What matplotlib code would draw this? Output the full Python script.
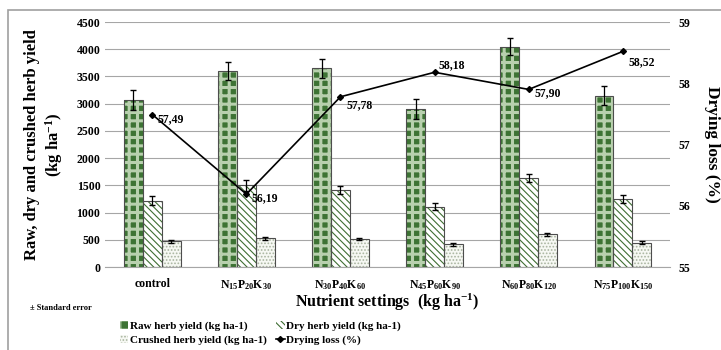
import numpy as np
import matplotlib.pyplot as plt
from matplotlib.patches import Patch, Rectangle
from matplotlib.lines import Line2D

plt.rcParams['font.family'] = ['Liberation Serif', 'DejaVu Serif']
plt.rcParams['font.weight'] = 'bold'
plt.rcParams['mathtext.fontset'] = 'custom'
plt.rcParams['mathtext.rm'] = 'Liberation Serif:bold'
plt.rcParams['mathtext.it'] = 'Liberation Serif:bold'
plt.rcParams['mathtext.bf'] = 'Liberation Serif:bold'

categories = ['control', r'N$_{15}$P$_{20}$K$_{30}$', r'N$_{30}$P$_{40}$K$_{60}$',
              r'N$_{45}$P$_{60}$K$_{90}$', r'N$_{60}$P$_{80}$K$_{120}$',
              r'N$_{75}$P$_{100}$K$_{150}$']

raw_yield = [3070, 3600, 3650, 2900, 4050, 3150]
raw_err = [180, 170, 180, 180, 160, 170]
dry_yield = [1220, 1500, 1420, 1110, 1640, 1250]
dry_err = [80, 100, 70, 60, 70, 80]
crushed_yield = [470, 530, 510, 420, 600, 450]
crushed_err = [30, 25, 20, 30, 30, 20]
drying_loss = [57.49, 56.19, 57.78, 58.18, 57.90, 58.52]
loss_labels = ['57,49', '56,19', '57,78', '58,18', '57,90', '58,52']
label_offsets = [(4, -3), (4, -3), (4, -6), (3, 5), (4, -3), (4, -8)]

x = np.arange(len(categories))
w = 0.2

fig = plt.figure(figsize=(7.21, 3.5), dpi=100)
ax = fig.add_axes([0.146, 0.237, 0.783, 0.70])

dark = '#3f6e33'
edge = '#4d4d4d'
raw_face = '#3d7334'
raw_hatch = '#b8d0ae'

# raw herb yield - checkered look
plt.rcParams['hatch.linewidth'] = 2.2
ax.bar(x - w, raw_yield, w, color=raw_face, edgecolor=raw_hatch, hatch='++', linewidth=0, zorder=2)
raw_leg = Patch(facecolor=raw_face, edgecolor=raw_hatch, hatch='++', linewidth=0)
plt.rcParams['hatch.linewidth'] = 0.8
ax.bar(x - w, raw_yield, w, facecolor='none', edgecolor=edge, linewidth=0.8, zorder=3)
# dry herb yield - diagonal hatch
ax.bar(x, dry_yield, w, color='white', edgecolor=dark, hatch='\\\\\\\\\\', linewidth=0, zorder=2)
ax.bar(x, dry_yield, w, facecolor='none', edgecolor=edge, linewidth=0.8, zorder=3)
# crushed herb yield - dotted
ax.bar(x + w, crushed_yield, w, color='#f6f8f3', edgecolor='#a9b5a0', hatch='.....', linewidth=0, zorder=2)
ax.bar(x + w, crushed_yield, w, facecolor='none', edgecolor=edge, linewidth=0.8, zorder=3)

ax.errorbar(x - w, raw_yield, yerr=raw_err, fmt='none', ecolor='black', elinewidth=0.9, capsize=2, zorder=4)
ax.errorbar(x, dry_yield, yerr=dry_err, fmt='none', ecolor='black', elinewidth=0.9, capsize=2, zorder=4)
ax.errorbar(x + w, crushed_yield, yerr=crushed_err, fmt='none', ecolor='black', elinewidth=0.9, capsize=2, zorder=4)

ax.set_xlim(-0.5, len(categories) - 0.5)
ax.set_ylim(0, 4500)
ax.set_yticks(np.arange(0, 4501, 500))
ax.yaxis.grid(True, color='#a6a6a6', linewidth=0.8, zorder=0)
ax.set_axisbelow(True)
ax.tick_params(axis='both', length=0, labelsize=8.5)
ax.tick_params(axis='x', pad=8)
ax.set_xticks(x)
ax.set_xticklabels(categories)
for s in ['top', 'right', 'left']:
    ax.spines[s].set_visible(False)
ax.spines['bottom'].set_color('#a6a6a6')
ax.set_ylabel('Raw, dry and crushed herb yield\n(kg ha$^{-1}$)', fontsize=12, fontweight='bold', labelpad=8)
ax.set_xlabel('Nutrient settings  (kg ha$^{-1}$)', fontsize=11.5, fontweight='bold', labelpad=0)

ax2 = ax.twinx()
ax2.plot(x, drying_loss, color='black', linewidth=1.2, marker='D', markersize=3, zorder=5)
for xi, yi, lab, off in zip(x, drying_loss, loss_labels, label_offsets):
    ax2.annotate(lab, (xi, yi), xytext=off, textcoords='offset points', fontsize=8.5,
                 fontweight='bold', va='center', ha='left')
ax2.set_ylim(55, 59)
ax2.set_yticks([55, 56, 57, 58, 59])
ax2.tick_params(axis='y', length=0, labelsize=8.5, pad=6)
for s in ['top', 'right', 'left', 'bottom']:
    ax2.spines[s].set_visible(False)
ax2.set_ylabel('Drying loss (%)', fontsize=12.5, fontweight='bold', rotation=270, labelpad=22)

handles = [
    raw_leg,
    Patch(facecolor='#f6f8f3', edgecolor='#a9b5a0', hatch='.....', linewidth=0),
    Patch(facecolor='white', edgecolor=dark, hatch='\\\\\\\\\\', linewidth=0),
    Line2D([0], [0], color='black', marker='D', markersize=3, linewidth=1.2),
]
labels = ['Raw herb yield (kg ha-1)', 'Crushed herb yield (kg ha-1)',
          'Dry herb yield (kg ha-1)', 'Drying loss (%)']
fig.legend(handles, labels, ncol=2, loc='lower left', bbox_to_anchor=(0.152, -0.015),
           frameon=False, fontsize=8, handlelength=0.8, handleheight=0.8,
           handletextpad=0.15, columnspacing=0.8, labelspacing=0.35)

fig.text(0.042, 0.12, '± Standard error', fontsize=6, fontweight='bold', va='center')

fig.patches.append(Rectangle((0.011, -0.05), 1.2, 1.022, transform=fig.transFigure,
                             fill=False, edgecolor='#a0a0a0', linewidth=1.2))

fig.savefig('out.png', dpi=100)
